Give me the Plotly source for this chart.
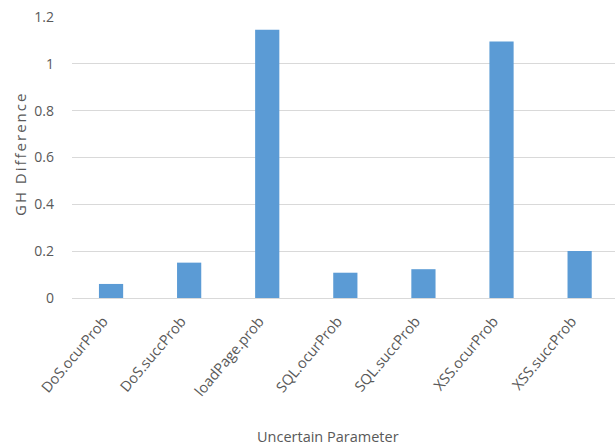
import plotly.graph_objects as go

# Sensitivity of the GH metric to each uncertain parameter
parameters = ["DoS.ocurProb", "DoS.succProb", "loadPage.prob", "SQL.ocurProb",
              "SQL.succProb", "XSS.ocurProb", "XSS.succProb"]
gh_difference = [0.060, 0.151, 1.146, 0.108, 0.123, 1.095, 0.201]
y_ticks = [0, 0.2, 0.4, 0.6, 0.8, 1.0, 1.2]
y_tick_text = ["0", "0.2", "0.4", "0.6", "0.8", "1", "1.2"]

FONT = "Open Sans, Liberation Sans, sans-serif"
TEXT = "#595959"
GRID = "#d9d9d9"

fig = go.Figure(
    go.Bar(
        x=list(range(len(parameters))),
        y=gh_difference,
        marker=dict(color="#5b9bd5", line=dict(width=0)),
    )
)

fig.update_layout(
    width=615,
    height=446,
    margin=dict(l=72, r=0, t=17, b=148, autoexpand=False),
    paper_bgcolor="white",
    plot_bgcolor="white",
    bargap=0.69,
    showlegend=False,
    font=dict(family=FONT, size=13, color=TEXT),
    xaxis=dict(
        range=[-0.5, 6.453],
        tickmode="array",
        tickvals=list(range(len(parameters))),
        ticktext=parameters,
        tickangle=-50,
        showgrid=False,
        zeroline=False,
        showline=False,
        ticks="",
        ticklabelstandoff=11,
        ticklabelshift=-8,
        tickfont=dict(family=FONT, size=14.5, color=TEXT),
    ),
    yaxis=dict(
        range=[0, 1.2],
        tickmode="array",
        tickvals=y_ticks,
        ticktext=y_tick_text,
        showgrid=True,
        gridcolor=GRID,
        gridwidth=1,
        zeroline=True,
        zerolinecolor=GRID,
        zerolinewidth=1,
        showline=False,
        ticks="",
        ticklabelstandoff=17,
        tickfont=dict(family=FONT, size=14, color=TEXT),
    ),
    annotations=[
        dict(
            text='<span style="letter-spacing:2px">GH Difference</span>',
            xref="paper", yref="paper",
            x=(20 - 72) / (615 - 72), y=(298 - 154) / 281,
            xanchor="center", yanchor="middle",
            textangle=-90,
            showarrow=False,
            font=dict(family=FONT, size=15, color=TEXT),
        ),
        dict(
            text="Uncertain Parameter",
            xref="paper", yref="paper",
            x=(328 - 72) / (615 - 72), y=-(436 - 298) / 281,
            xanchor="center", yanchor="middle",
            showarrow=False,
            font=dict(family=FONT, size=14.5, color=TEXT),
        ),
    ],
)

fig.write_html("out.html")
